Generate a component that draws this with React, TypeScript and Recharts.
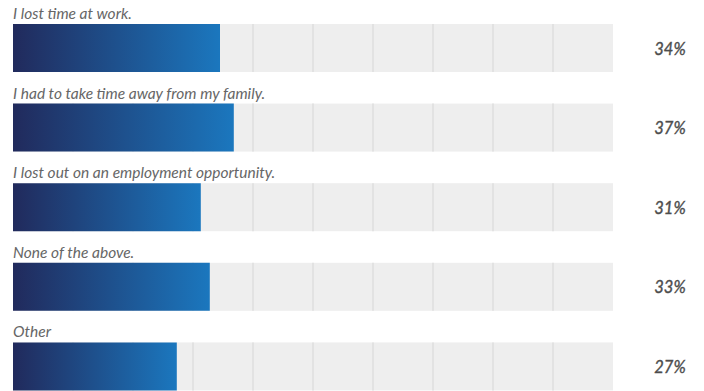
import React from 'react';
import { BarChart, Bar, XAxis, YAxis, LabelList } from 'recharts';

const answers = [
  'I lost time at work.',
  'I had to take time away from my family.',
  'I lost out on an employment opportunity.',
  'None of the above.',
  'Other',
];
const shares = [34.5, 36.8, 31.3, 32.8, 27.3];
const shareLabels = ['34%', '37%', '31%', '33%', '27%'];
const gridSteps = [10, 20, 30, 40, 50, 60, 70, 80, 90];

const data = answers.map((answer, i) => ({
  answer,
  share: shares[i],
  label: shareLabels[i],
}));

const FONT = 'Lato, "Open Sans", sans-serif';

// gray track with the faint vertical grid drawn on it (under the bar fill)
const Track = (props: any) => {
  const { x, y, width, height } = props;
  return (
    <g>
      <rect x={x} y={y} width={width} height={height} fill="#eeeeee" />
      {gridSteps.map((s) => (
        <line
          key={s}
          x1={x + (width * s) / 100}
          x2={x + (width * s) / 100}
          y1={y}
          y2={y + height}
          stroke="#e2e2e2"
          strokeWidth={2}
        />
      ))}
    </g>
  );
};

const AnswerLabel = (props: any) => {
  const { x, y, value } = props;
  return (
    <text x={x} y={y - 5} fill="#666666" fontSize={15.5} fontStyle="italic" fontFamily={FONT}>
      {value}
    </text>
  );
};

const ShareLabel = (props: any) => {
  const { y, height, value } = props;
  return (
    <text
      x={670}
      y={y + height / 2 + 6.5}
      textAnchor="middle"
      fill="#4d4d4d"
      stroke="#4d4d4d"
      strokeWidth={0.35}
      fontSize={16.5}
      fontStyle="italic"
      fontFamily={FONT}
    >
      {value}
    </text>
  );
};

export default function App() {
  return (
    <div style={{ position: 'absolute', left: 0, top: 0, width: 704, height: 391, overflow: 'hidden', background: '#fff' }}>
      <BarChart
        width={704}
        height={406}
        data={data}
        layout="vertical"
        margin={{ top: 8, right: 91, left: 13, bottom: 0 }}
      >
        <defs>
          <linearGradient id="barFill" x1="0" y1="0" x2="1" y2="0">
            <stop offset="0%" stopColor="#212a5c" />
            <stop offset="100%" stopColor="#1b77be" />
          </linearGradient>
        </defs>
        <XAxis type="number" domain={[0, 100]} hide />
        <YAxis type="category" dataKey="answer" hide />
        <Bar
          dataKey="share"
          barSize={48}
          fill="url(#barFill)"
          background={<Track />}
          isAnimationActive={false}
        >
          <LabelList dataKey="answer" content={<AnswerLabel />} />
          <LabelList dataKey="label" content={<ShareLabel />} />
        </Bar>
      </BarChart>
    </div>
  );
}
